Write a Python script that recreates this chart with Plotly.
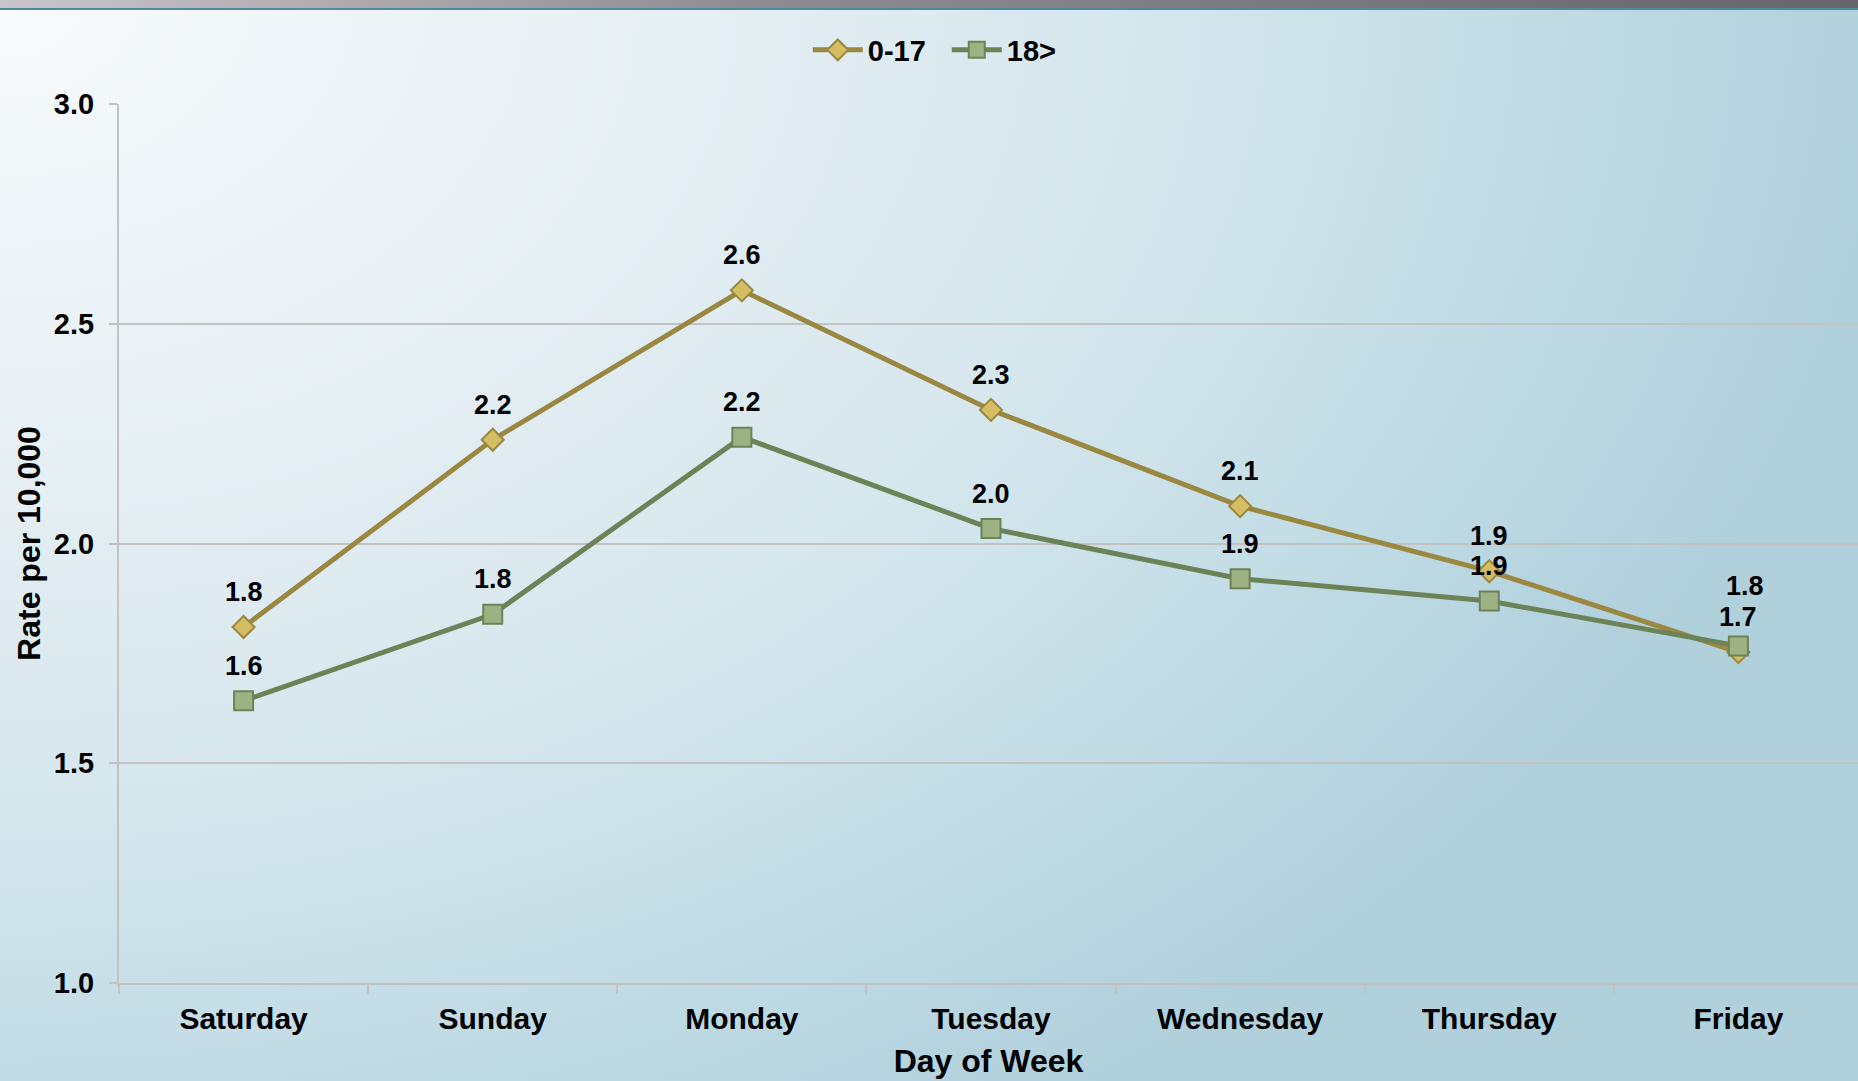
import base64
import plotly.graph_objects as go

# ---- data ----
days = ["Saturday", "Sunday", "Monday", "Tuesday", "Wednesday", "Thursday", "Friday"]
rate_0_17 = [1.81, 2.236, 2.576, 2.304, 2.085, 1.937, 1.753]
rate_18 = [1.642, 1.839, 2.242, 2.034, 1.92, 1.869, 1.767]
labels_0_17 = ["1.8", "2.2", "2.6", "2.3", "2.1", "1.9", "1.8"]
labels_18 = ["1.6", "1.8", "2.2", "2.0", "1.9", "1.9", "1.7"]
y_ticks = [1.0, 1.5, 2.0, 2.5, 3.0]

FONT = "Arial, 'Liberation Sans', sans-serif"
GOLD_LINE = "#9a8740"
GOLD_FILL = "#d4bd62"
GREEN_LINE = "#6c8358"
GREEN_FILL = "#9db283"
GRID = "#c2c2c2"

W, H = 1858, 1081
ML, MR, MT, MB = 119, 0, 104, 98
PW, PH = W - ML - MR, H - MT - MB

svg = f'''<svg xmlns="http://www.w3.org/2000/svg" width="{W}" height="{H}" viewBox="0 0 {W} {H}" preserveAspectRatio="none">
<defs>
<radialGradient id="bg" gradientUnits="userSpaceOnUse" cx="0" cy="0" r="1900" gradientTransform="scale(1,0.70)">
<stop offset="0" stop-color="#f8fbfd"/>
<stop offset="0.35" stop-color="#e6eff4"/>
<stop offset="0.64" stop-color="#d3e5ec"/>
<stop offset="0.85" stop-color="#bdd9e3"/>
<stop offset="1" stop-color="#b0d0dc"/>
</radialGradient>
<linearGradient id="top" x1="0" y1="0" x2="1" y2="0">
<stop offset="0" stop-color="#c9c5ca"/>
<stop offset="0.4" stop-color="#8f8c93"/>
<stop offset="1" stop-color="#67656c"/>
</linearGradient>
</defs>
<rect x="0" y="0" width="{W}" height="{H}" fill="url(#bg)"/>
<rect x="0" y="0" width="{W}" height="8" fill="url(#top)"/>
<rect x="0" y="8" width="{W}" height="2" fill="#4f8a9a"/>
</svg>'''
src = "data:image/svg+xml;base64," + base64.b64encode(svg.encode()).decode()

fig = go.Figure()
fig.add_trace(go.Scatter(
    x=days, y=rate_0_17, name="0-17", mode="lines+markers",
    line=dict(color=GOLD_LINE, width=5),
    marker=dict(symbol="diamond", size=17, color=GOLD_FILL, line=dict(color=GOLD_LINE, width=2)),
))
fig.add_trace(go.Scatter(
    x=days, y=rate_18, name="18>", mode="lines+markers",
    line=dict(color=GREEN_LINE, width=5),
    marker=dict(symbol="square", size=19, color=GREEN_FILL, line=dict(color=GREEN_LINE, width=2)),
))

annotations = []
for i, d in enumerate(days):
    last = i == len(days) - 1
    annotations.append(dict(
        x=d, y=rate_0_17[i], text=labels_0_17[i], showarrow=False,
        xshift=7 if last else 0, yshift=66 if last else 35,
        font=dict(family=FONT, size=27, color="black", weight="bold"),
    ))
    annotations.append(dict(
        x=d, y=rate_18[i], text=labels_18[i], showarrow=False,
        yshift=29 if last else 35,
        font=dict(family=FONT, size=27, color="black", weight="bold"),
    ))

fig.update_layout(
    width=W, height=H,
    margin=dict(l=ML, r=MR, t=MT, b=MB, pad=0),
    paper_bgcolor="rgba(0,0,0,0)",
    plot_bgcolor="rgba(0,0,0,0)",
    font=dict(family=FONT, color="black"),
    showlegend=True,
    legend=dict(
        orientation="h", x=0.476, xanchor="center", y=1 + (MT - 50) / PH, yanchor="middle",
        font=dict(family=FONT, size=29, color="black", weight="bold"),
        bgcolor="rgba(0,0,0,0)", itemwidth=50, tracegroupgap=0,
        entrywidth=74, entrywidthmode="pixels",
    ),
    images=[dict(
        source=src, xref="paper", yref="paper",
        x=-ML / PW, y=1 + MT / PH, sizex=W / PW, sizey=H / PH,
        xanchor="left", yanchor="top", sizing="stretch", layer="below",
    )],
    annotations=annotations,
    xaxis=dict(
        type="category", range=[-0.5, 6.48],
        showgrid=False, showline=True, linecolor=GRID, linewidth=2,
        ticks="outside", tickson="boundaries", ticklen=9, tickcolor=GRID, tickwidth=2,
        tickfont=dict(family=FONT, size=30, color="black", weight="bold"),
        ticklabelstandoff=8,
        title=dict(text="Day of Week", standoff=16,
                   font=dict(family=FONT, size=32, color="black", weight="bold")),
        fixedrange=True,
    ),
    yaxis=dict(
        range=[1.0, 3.0], tickvals=y_ticks, tickformat=".1f",
        showgrid=True, gridcolor=GRID, gridwidth=2,
        showline=True, linecolor=GRID, linewidth=2, zeroline=False,
        ticks="outside", ticklen=8, tickcolor=GRID, tickwidth=2,
        tickfont=dict(family=FONT, size=29, color="black", weight="bold"),
        ticklabelstandoff=9,
        title=dict(text="Rate per 10,000", standoff=4,
                   font=dict(family=FONT, size=32, color="black", weight="bold")),
        fixedrange=True,
    ),
)

fig.write_html(
    "out.html",
    config={"displayModeBar": False},
    post_script="document.body.style.margin='0';document.body.style.overflow='hidden';",
)
